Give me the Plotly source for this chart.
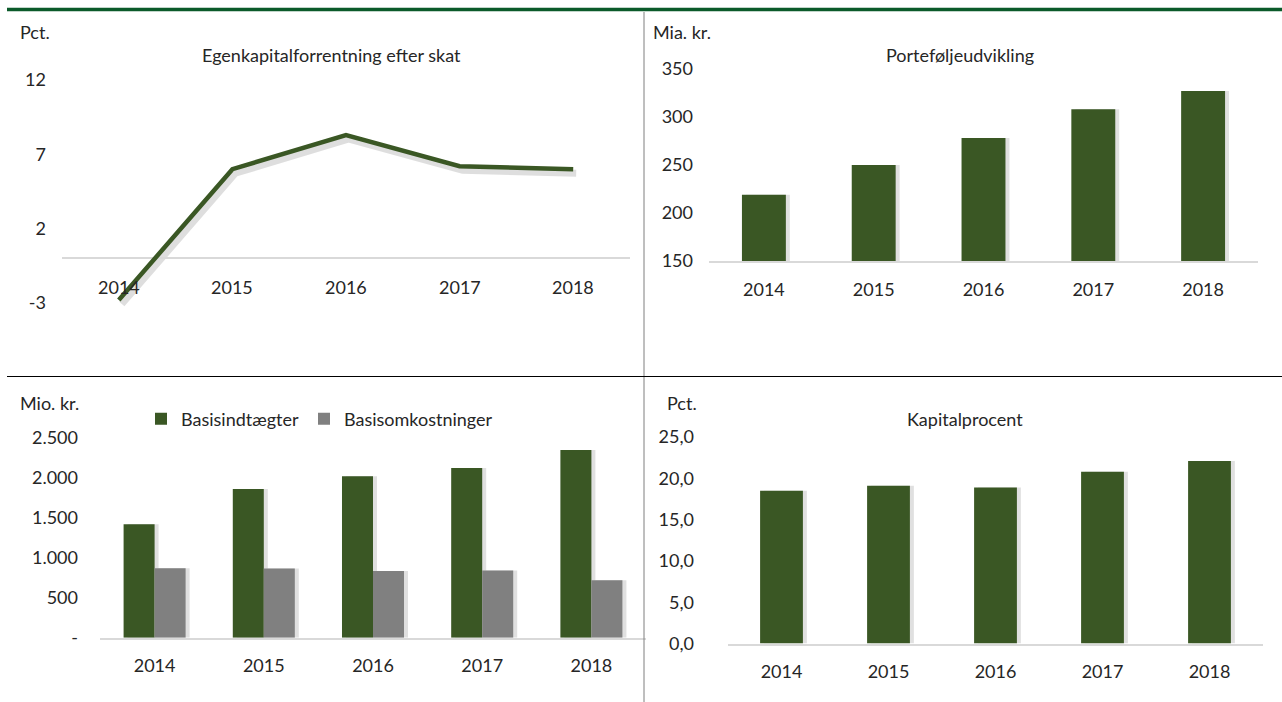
import plotly.graph_objects as go

# ---------------- data ----------------
years = ["2014", "2015", "2016", "2017", "2018"]
roe_pct = [-2.8, 6.0, 8.3, 6.2, 6.0]                 # Egenkapitalforrentning efter skat
portfolio_bn = [219, 250, 278, 308, 327]            # Porteføljeudvikling, mia. kr.
basic_income_m = [1420, 1860, 2020, 2125, 2350]     # Basisindtægter, mio. kr.
basic_costs_m = [870, 865, 835, 840, 720]           # Basisomkostninger, mio. kr.
capital_pct = [18.5, 19.1, 18.9, 20.8, 22.1]        # Kapitalprocent

roe_ticks = [-3, 2, 7, 12]
port_ticks = [150, 200, 250, 300, 350]
inc_ticks = [0, 500, 1000, 1500, 2000, 2500]
cap_ticks = [0, 5, 10, 15, 20, 25]

# ---------------- style ----------------
W, H = 1282, 702
GREEN = "#3A5724"
GRAY = "#808080"
AXIS = "#D9D9D9"
TXT = "#262626"
SHADOW = "rgba(0,0,0,0.12)"
FONT = "Lato"
FS = 18


def px(p):
    return p / W


def py(p):
    return 1 - p / H


def dk(v):
    if v == 0:
        return "-"
    return f"{v:,}".replace(",", ".")


fig = go.Figure()

# shadow of line (axis 1, drawn first)
fig.add_trace(go.Scatter(x=years, y=roe_pct, mode="lines", xaxis="x", yaxis="y",
                         line=dict(color="rgba(0,0,0,0.13)", width=7),
                         showlegend=False, hoverinfo="skip", cliponaxis=False))
# panel 1 line
fig.add_trace(go.Scatter(x=years, y=roe_pct, mode="lines", xaxis="x2", yaxis="y2",
                         line=dict(color=GREEN, width=4.5),
                         showlegend=False, cliponaxis=False))

# panel 2 bars (with soft shadow)
fig.add_trace(go.Bar(x=years, y=[v - 150 for v in portfolio_bn], base=150, xaxis="x3", yaxis="y3",
                     width=0.4, offset=-0.2 + 4 / 110, marker=dict(color=SHADOW, line=dict(width=0)),
                     showlegend=False, hoverinfo="skip"))
fig.add_trace(go.Bar(x=years, y=[v - 150 for v in portfolio_bn], base=150, xaxis="x3", yaxis="y3",
                     width=0.4, offset=-0.2, marker=dict(color=GREEN, line=dict(width=0)),
                     showlegend=False, customdata=portfolio_bn, hovertemplate="%{customdata}<extra></extra>"))

# panel 3 grouped bars
bw = 0.284
fig.add_trace(go.Bar(x=years, y=basic_costs_m, xaxis="x4", yaxis="y4", width=bw, offset=4 / 109,
                     marker=dict(color=SHADOW, line=dict(width=0)), showlegend=False, hoverinfo="skip"))
fig.add_trace(go.Bar(x=years, y=basic_income_m, xaxis="x4", yaxis="y4", width=bw, offset=-bw + 4 / 109,
                     marker=dict(color=SHADOW, line=dict(width=0)), showlegend=False, hoverinfo="skip"))
fig.add_trace(go.Bar(x=years, y=basic_income_m, xaxis="x4", yaxis="y4", width=bw, offset=-bw,
                     name="Basisindtægter", marker=dict(color=GREEN, line=dict(width=0))))
fig.add_trace(go.Bar(x=years, y=basic_costs_m, xaxis="x4", yaxis="y4", width=bw, offset=0,
                     name="Basisomkostninger", marker=dict(color=GRAY, line=dict(width=0))))

# panel 4 bars
fig.add_trace(go.Bar(x=years, y=capital_pct, xaxis="x5", yaxis="y5", width=0.4, offset=-0.2 + 4 / 107,
                     marker=dict(color=SHADOW, line=dict(width=0)), showlegend=False, hoverinfo="skip"))
fig.add_trace(go.Bar(x=years, y=capital_pct, xaxis="x5", yaxis="y5", width=0.4, offset=-0.2,
                     marker=dict(color=GREEN, line=dict(width=0)), showlegend=False))

hidden = dict(visible=False, fixedrange=True, automargin=False)
tickfont = dict(family=FONT, size=FS, color=TXT)
common = dict(showgrid=False, fixedrange=True, automargin=False, ticks="")

fig.update_layout(
    template="none",
    width=W, height=H,
    margin=dict(l=0, r=0, t=0, b=0, pad=0, autoexpand=False),
    paper_bgcolor="white", plot_bgcolor="rgba(0,0,0,0)",
    barmode="overlay",
    separators=",.",
    font=dict(family=FONT, size=FS, color=TXT),
    # shadow axes for panel 1
    xaxis=dict(domain=[px(62 + 3), px(630 + 3)], range=[-0.5, 4.5], type="category", **hidden),
    yaxis=dict(domain=[py(303 + 4), py(80 + 4)], range=[-3, 12], **hidden),
    # panel 1
    xaxis2=dict(domain=[px(62), px(630)], range=[-0.5, 4.5], type="category", anchor="y2",
                showticklabels=False, showline=False, zeroline=False, **common),
    yaxis2=dict(domain=[py(303), py(80)], range=[-3, 12], anchor="x2", tickvals=roe_ticks,
                ticktext=[str(v) for v in roe_ticks], showline=False,
                zeroline=True, zerolinecolor=AXIS, zerolinewidth=2, tickfont=tickfont,
                ticklabelstandoff=15, **common),
    # panel 2
    xaxis3=dict(domain=[px(709), px(1258)], range=[-0.5, 4.5], type="category", anchor="y3",
                showline=True, linecolor=AXIS, linewidth=2, tickfont=tickfont,
                ticklabelstandoff=11, **common),
    yaxis3=dict(domain=[py(261), py(69)], range=[150, 350], anchor="x3", tickvals=port_ticks,
                ticktext=[str(v) for v in port_ticks], showline=False, zeroline=False,
                tickfont=tickfont, ticklabelstandoff=15, **common),
    # panel 3
    xaxis4=dict(domain=[px(100), px(646)], range=[-0.5, 4.5], type="category", anchor="y4",
                showline=True, linecolor=AXIS, linewidth=2, tickfont=tickfont,
                ticklabelstandoff=11, **common),
    yaxis4=dict(domain=[py(637.7), py(438)], range=[0, 2500], anchor="x4", tickvals=inc_ticks,
                ticktext=[dk(v) for v in inc_ticks], showline=False, zeroline=False,
                tickfont=tickfont, ticklabelstandoff=21, **common),
    # panel 4
    xaxis5=dict(domain=[px(728), px(1263)], range=[-0.5, 4.5], type="category", anchor="y5",
                showline=True, linecolor=AXIS, linewidth=2, tickfont=tickfont,
                ticklabelstandoff=11, **common),
    yaxis5=dict(domain=[py(643.5), py(437)], range=[0, 25], anchor="x5", tickvals=cap_ticks,
                ticktext=[f"{v:.1f}".replace(".", ",") for v in cap_ticks],
                showline=False, zeroline=False, tickfont=tickfont, ticklabelstandoff=33, **common),
    legend=dict(orientation="h", x=px(141), y=py(419), xanchor="left", yanchor="middle",
                font=dict(family=FONT, size=FS, color=TXT), bgcolor="rgba(0,0,0,0)",
                borderwidth=0, itemwidth=30, traceorder="normal", tracegroupgap=0),
    showlegend=True,
)

ann = []
# panel 1 category labels sit just under the zero line (category index positions)
for i, yv in enumerate(years):
    ann.append(dict(x=i, y=0, xref="x2", yref="y2", text=yv, showarrow=False, yshift=-29,
                    font=dict(family=FONT, size=FS, color=TXT)))


def txt(t, x, y, anchor="left"):
    ann.append(dict(x=px(x), y=py(y), xref="paper", yref="paper", text=t, showarrow=False,
                    xanchor=anchor, yanchor="middle", font=dict(family=FONT, size=FS, color=TXT)))


txt("Pct.", 18, 32)
txt("Egenkapitalforrentning efter skat", 331, 55, "center")
txt("Mia. kr.", 651, 32)
txt("Porteføljeudvikling", 960, 55, "center")
txt("Mio. kr.", 18, 403)
txt("Pct.", 665, 403)
txt("Kapitalprocent", 965, 419, "center")
fig.update_layout(annotations=ann)

shapes = [
    dict(type="line", xref="paper", yref="paper", x0=px(7), x1=1, y0=py(9.5), y1=py(9.5),
         line=dict(color="#0B5A2A", width=3.5)),
    dict(type="line", xref="paper", yref="paper", x0=px(644), x1=px(644), y0=py(12), y1=0,
         line=dict(color="#7F7F7F", width=1)),
    dict(type="line", xref="paper", yref="paper", x0=px(7), x1=1, y0=py(376.5), y1=py(376.5),
         line=dict(color="#000000", width=1.2)),
]
fig.update_layout(shapes=shapes)

fig.write_html("out.html", config={"displayModeBar": False},
               post_script="document.body.style.margin='0';document.body.style.overflow='hidden';")
